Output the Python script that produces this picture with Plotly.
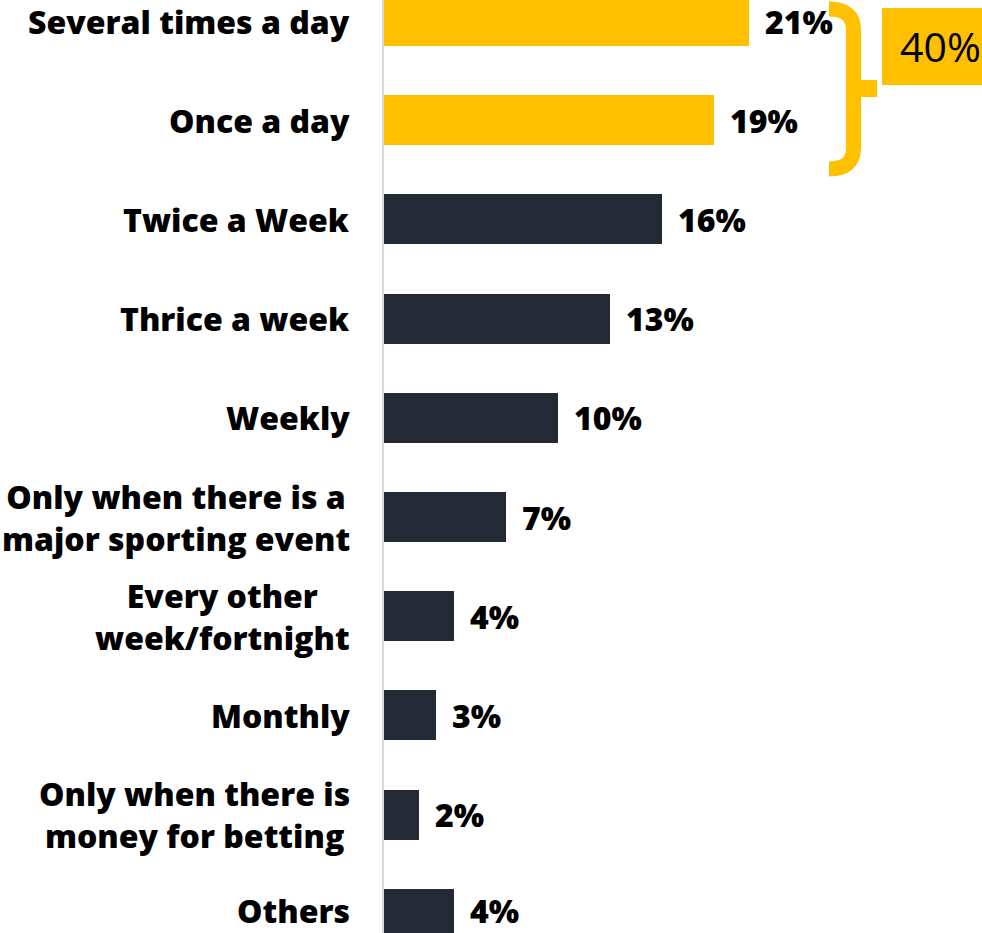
import plotly.graph_objects as go

# Survey: how often respondents bet
categories = [
    "Several times a day",
    "Once a day",
    "Twice a Week",
    "Thrice a week",
    "Weekly",
    "Only when there is a<br>major sporting event",
    "Every other<br>week/fortnight",
    "Monthly",
    "Only when there is<br>money for betting",
    "Others",
]
shares = [21, 19, 16, 13, 10, 7, 4, 3, 2, 4]
highlight_rows = [0, 1]          # daily bettors, bracketed together
daily_total_label = "40%"

YELLOW = "#FFC000"
DARK = "#232A36"
FONT = "Open Sans"

W, H = 982, 933
LEFT = 384
px_per_pct = 17.38
row_px = 99.2
first_row_px = 21

x_max = (W - LEFT) / px_per_pct
y_top = -first_row_px / row_px
y_bot = (H - first_row_px) / row_px

rows = list(range(len(categories)))
colors = [YELLOW if i in highlight_rows else DARK for i in rows]

fig = go.Figure(go.Bar(
    x=shares, y=rows, orientation="h",
    marker=dict(color=colors, line=dict(width=0)),
    width=0.505, hoverinfo="skip",
))

label_font = dict(family=FONT, size=32, color="#000000", weight=800)
annotations = []
for i, (cat, v) in enumerate(zip(categories, shares)):
    # keep the bottom row's text box inside the page
    lift = 3 if i == len(categories) - 1 else 0
    annotations.append(dict(
        x=0, y=i, xref="x", yref="y", text=cat,
        xanchor="right", yanchor="middle", xshift=-32, yshift=lift,
        align="center", showarrow=False, font=label_font,
    ))
    annotations.append(dict(
        x=v, y=i, xref="x", yref="y", text=f"{v}%",
        xanchor="left", yanchor="middle", xshift=14, yshift=lift,
        showarrow=False, font=label_font,
    ))

# bracket grouping the daily rows
def to_x(px):
    return (px - LEFT) / px_per_pct

def to_y(py):
    return (py - first_row_px) / row_px

bx0, bx1, bnub = to_x(829), to_x(853.5), to_x(877)
by0, by1 = to_y(9), to_y(169)
r = to_y(30) - to_y(9)
path = (f"M {bx0},{by0} Q {bx1},{by0} {bx1},{by0 + r} "
        f"L {bx1},{by1 - r} Q {bx1},{by1} {bx0},{by1}")
shapes = [
    dict(type="path", path=path, xref="x", yref="y",
         line=dict(color=YELLOW, width=15)),
    dict(type="rect", xref="x", yref="y", x0=bx1, x1=bnub,
         y0=to_y(80), y1=to_y(97), fillcolor=YELLOW, line=dict(width=0)),
    dict(type="rect", xref="x", yref="y", x0=to_x(882), x1=to_x(990),
         y0=to_y(8), y1=to_y(85), fillcolor=YELLOW, line=dict(width=0)),
]
annotations.append(dict(
    x=to_x(940), y=to_y(46), xref="x", yref="y", text=daily_total_label,
    xanchor="center", yanchor="middle", showarrow=False,
    font=dict(family=FONT, size=41, color="#000000"),
))

fig.update_layout(
    width=W, height=H,
    margin=dict(l=LEFT, r=0, t=0, b=0),
    paper_bgcolor="white", plot_bgcolor="white",
    showlegend=False, bargap=0,
    xaxis=dict(range=[0, x_max], visible=False, fixedrange=True),
    yaxis=dict(range=[y_bot, y_top], showticklabels=False, showgrid=False,
               zeroline=False, showline=True, linecolor="#D9D9D9",
               linewidth=2, ticks="", fixedrange=True),
    annotations=annotations, shapes=shapes,
)

fig.write_html("out.html", config={"displayModeBar": False})
